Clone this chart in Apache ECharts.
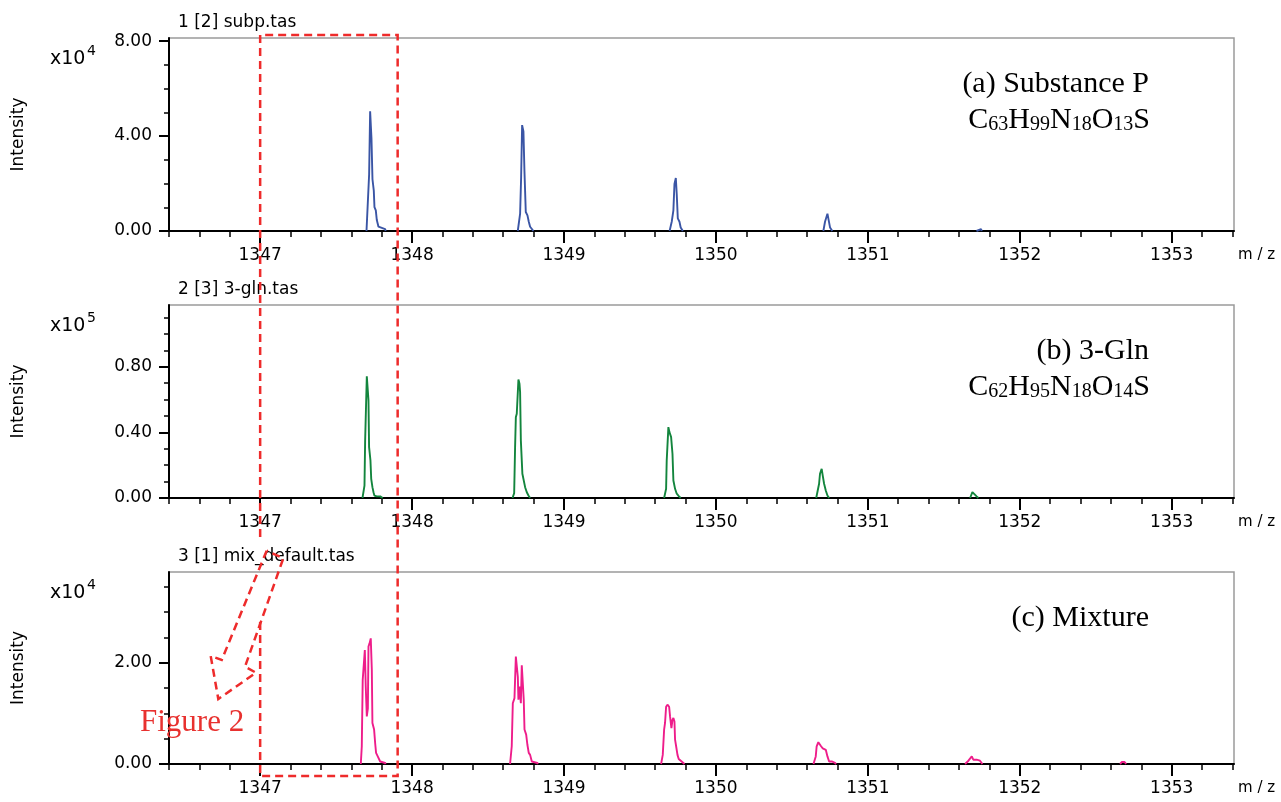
<!DOCTYPE html>
<html><head><meta charset="utf-8">
<script src="https://cdn.jsdelivr.net/npm/echarts@6/dist/echarts.min.js"></script>
<style>html,body{margin:0;padding:0;background:#fff}#c{width:1281px;height:802px}</style>
</head><body><div id="c"></div>
<script>
// ---------- data ----------
const xTickLabels = [1347, 1348, 1349, 1350, 1351, 1352, 1353];
const xMin = 1346.4, xMax = 1353.41;
const panelFiles = ['1 [2] subp.tas', '2 [3] 3-gln.tas', '3 [1] mix_default.tas'];
const panelExponents = ['4', '5', '4'];
const yMaxes = [8.13, 1.177, 3.79];
const yTickLabels1 = [0, 4, 8];
const yTickLabels2 = [0, 0.4, 0.8];
const yTickLabels3 = [0, 2];
const yMinorTicks1 = [1, 2, 3, 5, 6, 7];
const yMinorTicks2 = [0.1, 0.2, 0.3, 0.5, 0.6, 0.7, 0.9, 1.0, 1.1];
const yMinorTicks3 = [0.5, 1, 1.5, 2.5, 3, 3.5];

// (a) Substance P, intensity x10^4
const subpPeaks = [
  [[1347.700,0],[1347.7086,0],[1347.7173,2.39],[1347.7239,5.04],[1347.7327,3.91],[1347.7393,2.18],[1347.748,1.70],[1347.7524,1.01],[1347.7612,0.87],[1347.7678,0.46],[1347.7788,0.18],[1347.7897,0.11],[1347.8226,0.08],[1347.826,0]],
  [[1348.6957,0],[1348.7111,0.73],[1348.7177,2.25],[1348.7243,4.46],[1348.733,4.19],[1348.7396,2.53],[1348.7484,0.80],[1348.7594,0.66],[1348.7682,0.39],[1348.7769,0.18],[1348.7879,0.11],[1348.7988,0]],
  [[1349.695,0],[1349.709,0.39],[1349.720,0.87],[1349.727,1.98],[1349.736,2.23],[1349.742,1.56],[1349.749,0.53],[1349.760,0.39],[1349.768,0.15],[1349.782,0]],
  [[1350.707,0],[1350.718,0.39],[1350.734,0.73],[1350.742,0.46],[1350.751,0.15],[1350.766,0]],
  [[1351.715,0],[1351.72,0.08],[1351.745,0.08],[1351.75,0]]
];
// (b) 3-Gln, intensity x10^5
const glnPeaks = [
  [[1347.6735,0],[1347.6867,0.076],[1347.691,0.35],[1347.702,0.742],[1347.713,0.595],[1347.717,0.31],[1347.726,0.229],[1347.731,0.117],[1347.739,0.066],[1347.746,0.035],[1347.752,0.015],[1347.768,0.01],[1347.79,0.01],[1347.801,0.02],[1347.807,0]],
  [[1348.661,0],[1348.672,0.03],[1348.678,0.31],[1348.683,0.493],[1348.689,0.514],[1348.7,0.722],[1348.707,0.697],[1348.711,0.646],[1348.716,0.35],[1348.726,0.148],[1348.733,0.137],[1348.744,0.066],[1348.755,0.035],[1348.766,0.015],[1348.777,0]],
  [[1349.659,0],[1349.672,0.056],[1349.676,0.229],[1349.687,0.432],[1349.694,0.402],[1349.698,0.412],[1349.705,0.371],[1349.714,0.27],[1349.72,0.107],[1349.731,0.056],[1349.742,0.026],[1349.757,0.01],[1349.768,0]],
  [[1350.66,0],[1350.67,0.046],[1350.679,0.087],[1350.685,0.148],[1350.696,0.178],[1350.703,0.137],[1350.712,0.087],[1350.723,0.046],[1350.734,0.015],[1350.745,0]],
  [[1351.673,0],[1351.688,0.036],[1351.701,0.03],[1351.716,0.01],[1351.727,0]]
];
// (c) Mixture, intensity x10^4
const mixPeaks = [
  [[1347.6625,0],[1347.669,0.35],[1347.675,1.66],[1347.689,2.25],[1347.695,1.53],[1347.702,0.94],[1347.709,1.10],[1347.713,2.32],[1347.72,2.38],[1347.728,2.48],[1347.735,1.86],[1347.739,0.81],[1347.75,0.68],[1347.757,0.41],[1347.763,0.22],[1347.774,0.15],[1347.79,0.05],[1347.801,0.02],[1347.823,0.02],[1347.826,0]],
  [[1348.645,0],[1348.656,0.35],[1348.663,1.20],[1348.674,1.30],[1348.683,2.12],[1348.689,2.09],[1348.696,1.72],[1348.7,1.27],[1348.707,1.53],[1348.716,1.20],[1348.722,1.95],[1348.729,1.92],[1348.735,1.27],[1348.74,0.68],[1348.751,0.58],[1348.759,0.38],[1348.768,0.22],[1348.777,0.18],[1348.788,0.05],[1348.799,0.02],[1348.825,0.02],[1348.828,0]],
  [[1349.639,0],[1349.65,0.18],[1349.659,0.68],[1349.665,0.81],[1349.672,1.13],[1349.681,1.17],[1349.692,1.13],[1349.698,0.94],[1349.707,0.71],[1349.714,0.87],[1349.72,0.91],[1349.727,0.84],[1349.731,0.48],[1349.738,0.35],[1349.747,0.18],[1349.755,0.10],[1349.768,0.065],[1349.782,0.03],[1349.793,0]],
  [[1350.642,0],[1350.657,0.15],[1350.663,0.35],[1350.674,0.43],[1350.685,0.41],[1350.692,0.35],[1350.703,0.31],[1350.714,0.28],[1350.723,0.28],[1350.734,0.15],[1350.745,0.05],[1350.762,0.05],[1350.784,0.02],[1350.791,0]],
  [[1351.64,0],[1351.662,0.065],[1351.684,0.15],[1351.694,0.085],[1351.716,0.085],[1351.738,0.065],[1351.754,0]],
  [[1352.66,0],[1352.672,0.04],[1352.69,0.04],[1352.70,0]]
];

// ---------- layout / style ----------
const FF = 'DejaVu Sans';
const SERIF = 'Liberation Serif';
const RED = '#ee2b2b';
const gridTops = [38, 305, 572];
const gridHeights = [193, 193, 192];
const colors = ['#3a55a5', '#13853d', '#ee1d8a'];
const allPeaks = [subpPeaks, glnPeaks, mixPeaks];
const yMajors = [yTickLabels1, yTickLabels2, yTickLabels3];
const yMinors = [yMinorTicks1, yMinorTicks2, yMinorTicks3];
const xMinor = [];
for (let k = 0; k <= 35; k++) {
  const v = Math.round((1346.4 + 0.2 * k) * 10) / 10;
  if (Math.abs(v - Math.round(v)) > 1e-6) xMinor.push(v);
}

function joinPeaks(peaks) {
  const out = [];
  peaks.forEach((p, i) => {
    if (i > 0) out.push(['-', '-']);
    p.forEach(pt => out.push(pt));
  });
  return out;
}

const grids = [], xAxes = [], yAxes = [], series = [];
for (let i = 0; i < 3; i++) {
  grids.push({left: 169, right: 47, top: gridTops[i], height: gridHeights[i],
    show: true, borderColor: '#9a9a9a', borderWidth: 1.5, backgroundColor: 'transparent'});
}
for (let i = 0; i < 3; i++) {
  xAxes.push({gridIndex: i, type: 'value', position: 'bottom', min: xMin, max: xMax,
    axisLine: {show: true, onZero: false, lineStyle: {color: '#000', width: 2}},
    axisTick: {show: true, customValues: xTickLabels, length: 12, lineStyle: {color: '#000', width: 2}},
    axisLabel: {show: true, customValues: xTickLabels, margin: 16, color: '#000', fontFamily: FF, fontSize: 17,
      formatter: v => String(Math.round(v))},
    splitLine: {show: false}});
}
for (let i = 0; i < 3; i++) {
  xAxes.push({gridIndex: i, type: 'value', position: 'bottom', min: xMin, max: xMax,
    axisLine: {show: false},
    axisTick: {show: true, customValues: xMinor, length: 6, lineStyle: {color: '#000', width: 1.5}},
    axisLabel: {show: false}, splitLine: {show: false}});
}
for (let i = 0; i < 3; i++) {
  yAxes.push({gridIndex: i, type: 'value', position: 'left', min: 0, max: yMaxes[i],
    axisLine: {show: true, onZero: false, lineStyle: {color: '#000', width: 2}},
    axisTick: {show: true, customValues: yMajors[i], length: 10, lineStyle: {color: '#000', width: 2}},
    axisLabel: {show: true, customValues: yMajors[i], margin: 17, color: '#000', fontFamily: FF, fontSize: 17,
      formatter: v => v.toFixed(2)},
    splitLine: {show: false}});
}
for (let i = 0; i < 3; i++) {
  yAxes.push({gridIndex: i, type: 'value', position: 'left', min: 0, max: yMaxes[i],
    axisLine: {show: false},
    axisTick: {show: true, customValues: yMinors[i], length: 5, lineStyle: {color: '#000', width: 1.5}},
    axisLabel: {show: false}, splitLine: {show: false}});
}
for (let i = 0; i < 3; i++) {
  series.push({type: 'line', xAxisIndex: i, yAxisIndex: i, data: joinPeaks(allPeaks[i]),
    showSymbol: false, symbol: 'none', connectNulls: false, clip: true,
    lineStyle: {color: colors[i], width: 1.9}, itemStyle: {color: colors[i]}, z: 3});
}

const chart = echarts.init(document.getElementById('c'), null, {renderer: 'canvas'});
chart.setOption({animation: false, backgroundColor: '#fff', textStyle: {fontFamily: FF},
  grid: grids, xAxis: xAxes, yAxis: yAxes, series: series});

// ---------- annotations ----------
const g = [];
for (let i = 0; i < 3; i++) {
  const top = gridTops[i], bottom = gridTops[i] + gridHeights[i];
  g.push({type: 'text', x: 178, y: top - 15, z: 50,
    style: {text: panelFiles[i], fill: '#000', font: '17px "' + FF + '"', align: 'left', verticalAlign: 'middle'}});
  g.push({type: 'text', x: 50, y: top + 21, z: 50,
    style: {text: 'x10', fill: '#000', font: '19px "' + FF + '"', align: 'left', verticalAlign: 'middle'}});
  g.push({type: 'text', x: 87, y: top + 13, z: 50,
    style: {text: panelExponents[i], fill: '#000', font: '14px "' + FF + '"', align: 'left', verticalAlign: 'middle'}});
  g.push({type: 'text', x: 19, y: (top + bottom) / 2, rotation: Math.PI / 2, z: 50,
    style: {text: 'Intensity', fill: '#000', font: '17px "' + FF + '"', align: 'center', verticalAlign: 'middle'}});
  g.push({type: 'text', x: 1238, y: bottom + 24, z: 50,
    style: {text: 'm / z', fill: '#000', font: '15px "' + FF + '"', align: 'left', verticalAlign: 'middle'}});
}
const richF = {
  m: {fontSize: 30, fontFamily: SERIF, lineHeight: 32, verticalAlign: 'bottom', fill: '#000'},
  s: {fontSize: 20, fontFamily: SERIF, lineHeight: 20, verticalAlign: 'bottom', fill: '#000'}
};
function label(text, x, y) {
  return {type: 'text', x: x, y: y, z: 50,
    style: {text: text, fill: '#000', font: '30px "' + SERIF + '"', align: 'right', verticalAlign: 'middle'}};
}
function formula(text, x, y) {
  return {type: 'text', x: x, y: y, z: 50,
    style: {text: text, rich: richF, fill: '#000', font: '30px "' + SERIF + '"', align: 'right', verticalAlign: 'middle'}};
}
g.push(label('(a) Substance P', 1149, gridTops[0] + 46));
g.push(formula('{m|C}{s|63}{m|H}{s|99}{m|N}{s|18}{m|O}{s|13}{m|S}', 1150, gridTops[0] + 81));
g.push(label('(b) 3-Gln', 1149, gridTops[1] + 46));
g.push(formula('{m|C}{s|62}{m|H}{s|95}{m|N}{s|18}{m|O}{s|14}{m|S}', 1150, gridTops[1] + 81));
g.push(label('(c) Mixture', 1149, gridTops[2] + 46));

const rx0 = chart.convertToPixel({xAxisIndex: 0}, 1347);
const rx1 = chart.convertToPixel({xAxisIndex: 0}, 1347.905);
const dashStyle = {stroke: RED, lineWidth: 2.5, lineDash: [8, 5], fill: null};
g.push({type: 'polyline', z: 60, shape: {points: [[rx0, 537], [rx0, 35], [rx1, 35], [rx1, 776], [rx0, 776], [rx0, 620]]}, style: dashStyle});
g.push({type: 'polyline', z: 60, shape: {points: [[266.7, 550.7], [221.7, 660], [210.7, 656], [218.3, 699], [256, 672.7], [245, 666.7], [283.3, 558.3], [266.7, 550.7]]}, style: dashStyle});
g.push({type: 'text', x: 140, y: 723, z: 60,
  style: {text: 'Figure 2', fill: '#e8312f', font: '31px "' + SERIF + '"', align: 'left', verticalAlign: 'middle'}});

chart.setOption({graphic: g});
</script></body></html>
